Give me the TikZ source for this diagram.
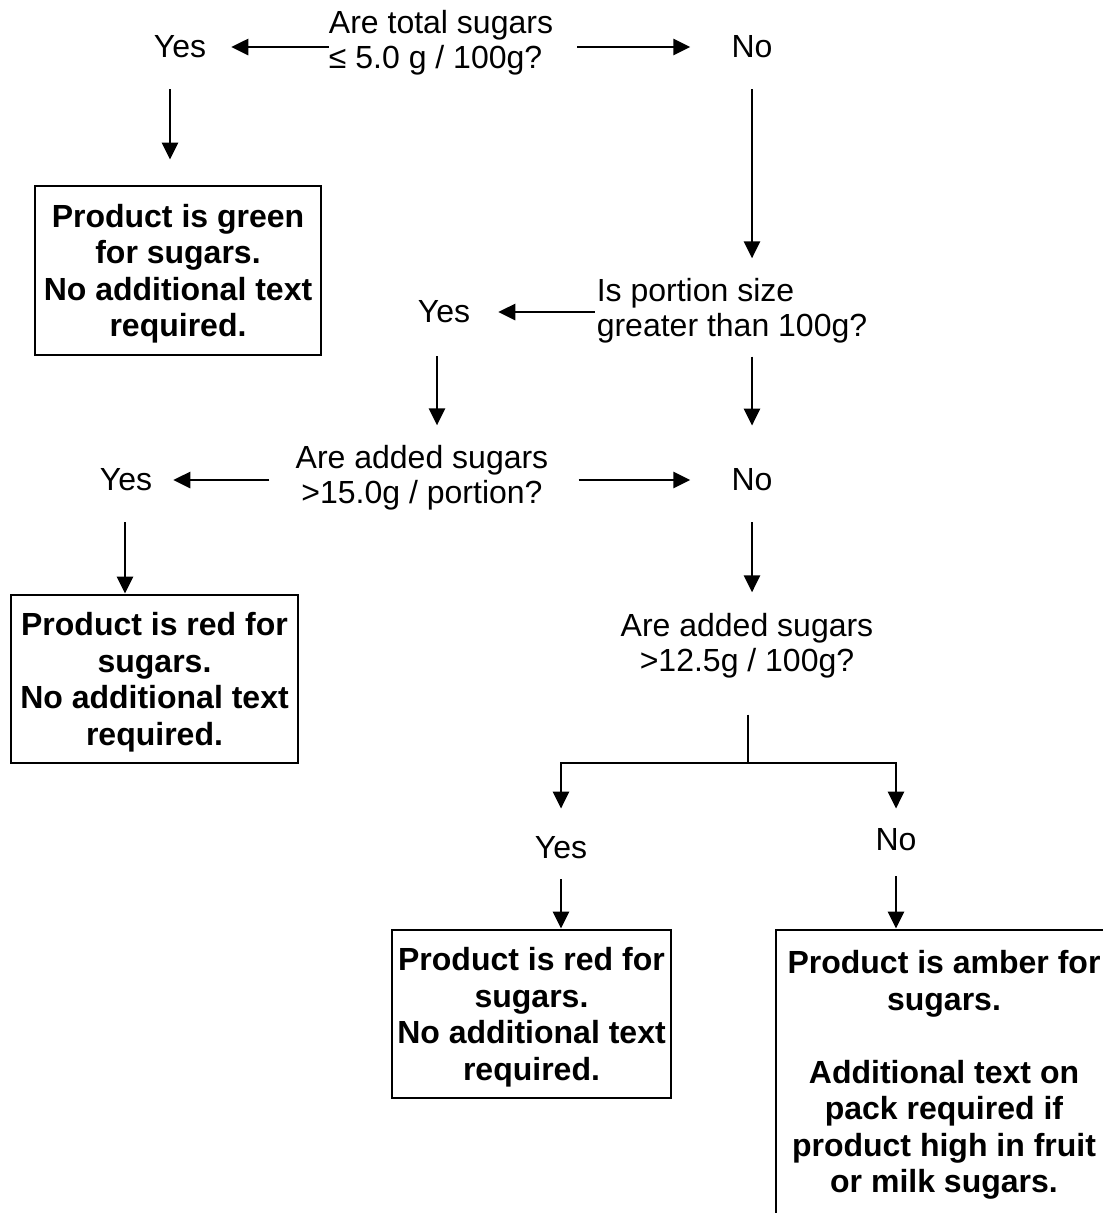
\documentclass[tikz,border=0pt]{standalone}
\usepackage{fontspec}
\setmainfont{Liberation Sans}
\usetikzlibrary{arrows.meta}

\begin{document}
\begin{tikzpicture}[x=1pt, y=-1pt,
  every node/.style={inner sep=0pt, font=\fontsize{32}{35}\selectfont},
  ql/.style={align=left},
  qc/.style={align=center},
  result/.style={draw, line width=2.8pt, align=center, text depth=-3pt, font=\fontsize{32}{36.5}\selectfont\bfseries},
  arr/.style={line width=2.8pt, -{Triangle[length=17pt,width=16pt]}},
  ln/.style={line width=2.8pt}]
  \useasboundingbox (0,0) rectangle (1103,1213);
  \clip (0,0) rectangle (1103,1213);
  \node[ql] (q1) at (441,43) {Are total sugars\\≤ 5.0 g / 100g?};
  \node[ql] (q2) at (732,311) {Is portion size\\greater than 100g?};
  \node[qc] (q3) at (422,478) {Are added sugars\\>15.0g / portion?};
  \node[qc] (q4) at (747,646) {Are added sugars\\>12.5g / 100g?};
  \foreach \n/\x/\y/\t in {yes1/180/47/Yes, no1/752/47/No, yes2/444/312/Yes, yes3/126/480/Yes,
                           no3/752/480/No, yes4/561/848/Yes, no4/896/840/No}
    {\node (\n) at (\x,\y) {\t};}
  \node[result, minimum width=286pt, minimum height=169pt] (green) at (178,270.5)
    {Product is green\\for sugars.\\No additional text\\required.};
  \node[result, minimum width=287pt, minimum height=168pt] (red1) at (154.5,679)
    {Product is red for\\sugars.\\No additional text\\required.};
  \node[result, minimum width=279pt, minimum height=168pt] (red2) at (531.5,1014)
    {Product is red for\\sugars.\\No additional text\\required.};
  \node[result, text depth=7pt, minimum width=336pt, minimum height=290pt] (amber) at (944,1075)
    {Product is amber for\\sugars.\\[36.5pt]Additional text on\\pack required if\\product high in fruit\\or milk sugars.};
  \coordinate (split) at (748,763);
  \draw[arr, shorten >=25pt] (q1.west |- yes1) -- (yes1.east);
  \draw[arr, shorten <=24pt, shorten >=41pt] (q1.east |- no1) -- (no1.west);
  \draw[arr, shorten <=31pt, shorten >=25pt] ([xshift=-10pt]yes1.south) -- ([xshift=-10pt]yes1.south |- green.north);
  \draw[arr, shorten <=31pt, shorten >=20pt] (no1.south) -- (no1.south |- q2.north);
  \draw[arr, shorten <=2pt, shorten >=28pt] (q2.west |- yes2) -- (yes2.east);
  \draw[arr, shorten <=33pt, shorten >=20pt] ([xshift=-7pt]yes2.south) -- ([xshift=-7pt]yes2.south |- q3.north);
  \draw[arr, shorten <=13pt, shorten >=43pt] (q2.south -| no3) -- (no3.north);
  \draw[arr, shorten <=26pt, shorten >=21pt] (q3.west |- yes3) -- (yes3.east);
  \draw[arr, shorten <=30pt, shorten >=41pt] (q3.east |- no3) -- (no3.west);
  \draw[arr, shorten <=31pt] ([xshift=-1pt]yes3.south) -- ([xshift=-1pt]yes3.south |- red1.north);
  \draw[arr, shorten <=31pt, shorten >=21pt] (no3.south) -- (no3.south |- q4.north);
  \draw[ln, shorten <=36pt] (q4.south -| split) -- (split);
  \draw[arr, shorten >=28pt] (split) -| (yes4.north);
  \draw[arr, shorten >=20pt] (split) -| (no4.north);
  \draw[arr, shorten <=20pt] (yes4.south) -- (yes4.south |- red2.north);
  \draw[arr, shorten <=25pt] (no4.south) -- (no4.south |- amber.north);
\end{tikzpicture}
\end{document}
